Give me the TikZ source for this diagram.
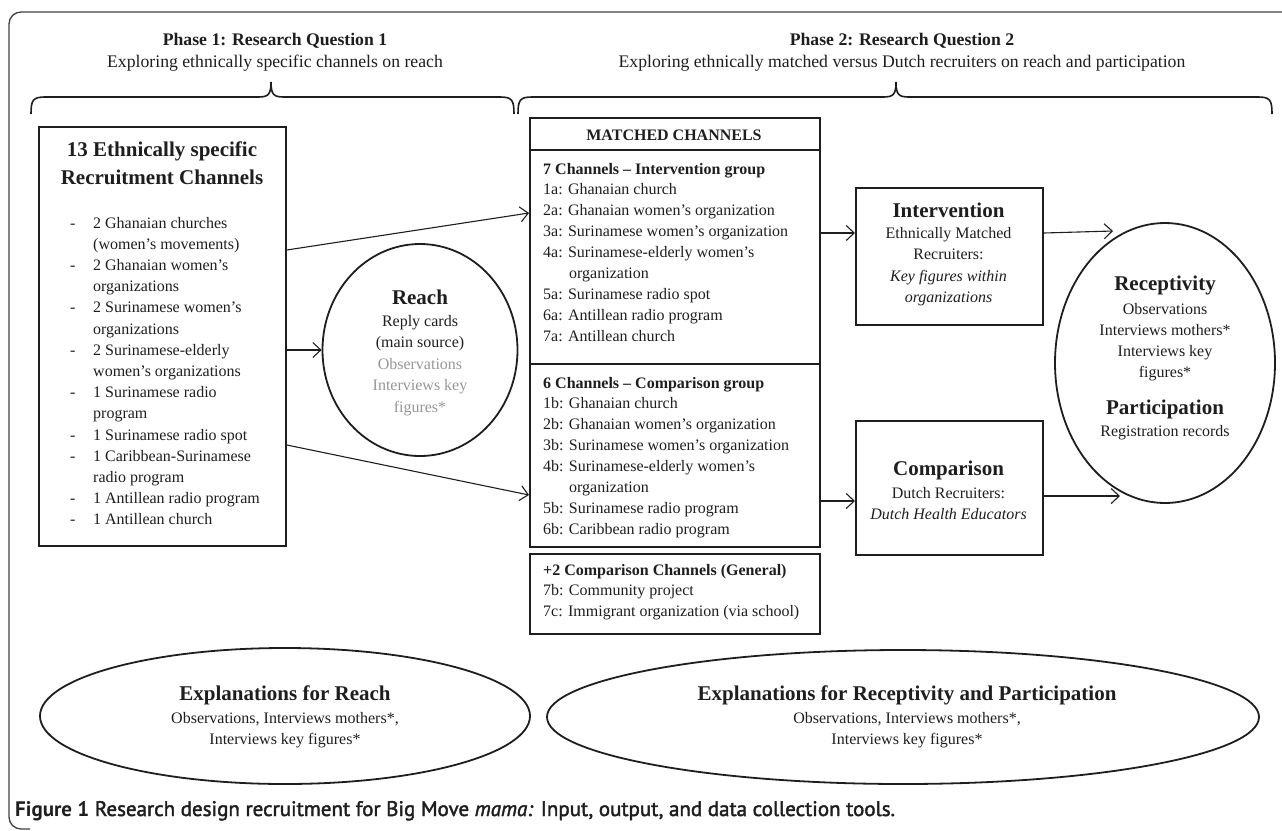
\documentclass[tikz,border=0pt]{standalone}
\usepackage{fontspec}
\setmainfont{Liberation Serif}
\newfontfamily\capfont{PT Sans}
\newfontfamily\capmed[FakeBold=2]{PT Sans}
\usetikzlibrary{arrows.meta,shapes.geometric}
\definecolor{lgray}{RGB}{150,150,150}
\definecolor{ink}{RGB}{30,30,30}
\tikzset{
  boxsty/.style={draw=ink, line width=1.8pt, inner sep=0pt, rectangle, anchor=north west},
  ellsty/.style={draw=ink, line width=1.8pt, ellipse, inner sep=0pt},
  arr/.style={draw=ink, line width=1.1pt, -{Straight Barb[length=8pt,width=15pt,line width=1.1pt]}},
  body/.style={font=\fontsize{16}{21}\selectfont, inner sep=0pt, text=ink},
  ttl/.style={font=\fontsize{21}{28}\selectfont\bfseries, inner sep=0pt, text=ink},
  bracesty/.style={draw=ink, line width=1.6pt},
}
\begin{document}
\begin{tikzpicture}[x=1pt,y=-1pt]
\useasboundingbox (0,0) rectangle (1282,830);
\begin{scope}
\clip (0,0) rectangle (1282,830);
\draw[line width=1.3pt, draw=black!75, rounded corners=12pt] (1300,12) -- (9,12) -- (9,829) -- (30,829);
\end{scope}

% phase headers
\node[ttl, font=\fontsize{17.7}{20}\selectfont\bfseries, anchor=base] (p1t) at (275,45) {Phase 1: Research Question 1};
\node[body, font=\fontsize{17.7}{20}\selectfont, anchor=base] (p1s) at (275,67) {Exploring ethnically specific channels on reach};
\node[ttl, font=\fontsize{17.7}{20}\selectfont\bfseries, anchor=base] (p2t) at (902,45) {Phase 2: Research Question 2};
\node[body, font=\fontsize{17.7}{20}\selectfont, anchor=base] (p2s) at (902,67) {Exploring ethnically matched versus Dutch recruiters on reach and participation};

% braces
\draw[bracesty] (31,114) .. controls (31,100) and (33,97) .. (45,97) -- (258,97)
  .. controls (268,97) and (271,95) .. (271,82) .. controls (271,95) and (274,97) .. (284,97)
  -- (500,97) .. controls (512,97) and (514,100) .. (514,114);
\draw[bracesty] (518,114) .. controls (518,100) and (520,97) .. (532,97) -- (883,97)
  .. controls (893,97) and (896,95) .. (896,82) .. controls (896,95) and (899,97) .. (909,97)
  -- (1258,97) .. controls (1270,97) and (1272,100) .. (1272,114);

% left box
\node[boxsty, minimum width=247pt, minimum height=419pt] (lbox) at (38,126) {};
\node[ttl, align=center] (ltitle) at (162,163) {13 Ethnically specific\\Recruitment Channels};
\node[body, anchor=base west] (llist) at (70,228) {\fontsize{16}{21.2}\selectfont
\begin{tabular}[t]{@{}p{23pt}@{}l@{}}
- & 2 Ghanaian churches\\
  & (women’s movements)\\
- & 2 Ghanaian women’s\\
  & organizations\\
- & 2 Surinamese women’s\\
  & organizations\\
- & 2 Surinamese-elderly\\
  & women’s organizations\\
- & 1 Surinamese radio\\
  & program\\
- & 1 Surinamese radio spot\\
- & 1 Caribbean-Surinamese\\
  & radio program\\
- & 1 Antillean radio program\\
- & 1 Antillean church
\end{tabular}};

% reach
\node[ellsty, minimum width=195pt, minimum height=212pt] (reach) at (420,350) {};
\node[ttl, anchor=base] (reachT) at (420,304) {Reach};
\node[body, anchor=base] (reachB) at (420,326) {\fontsize{16}{21.5}\selectfont
\begin{tabular}[t]{@{}c@{}}
Reply cards\\
(main source)\\
\textcolor{lgray}{Observations}\\
\textcolor{lgray}{Interviews key}\\
\textcolor{lgray}{figures*}
\end{tabular}};

% matched channels
\node[boxsty, minimum width=290pt, minimum height=429pt] (mbox) at (529,117) {};
\draw[draw=ink, line width=1.8pt] (mbox.west |- 0,150) -- (mbox.east |- 0,150);
\draw[draw=ink, line width=1.8pt] (mbox.west |- 0,364) -- (mbox.east |- 0,364);
\node[body, font=\fontsize{16}{20}\selectfont\bfseries, anchor=base] (mhead) at (674,140) {MATCHED CHANNELS};
\node[body, anchor=base west] (ilist) at (543,174) {\fontsize{16}{20.9}\selectfont
\begin{tabular}[t]{@{}l@{}}
\textbf{7 Channels – Intervention group}\\
1a: Ghanaian church\\
2a: Ghanaian women’s organization\\
3a: Surinamese women’s organization\\
4a: Surinamese-elderly women’s\\
\hspace*{26pt}organization\\
5a: Surinamese radio spot\\
6a: Antillean radio program\\
7a: Antillean church
\end{tabular}};
\node[body, anchor=base west] (clist) at (543,388) {\fontsize{16}{20.9}\selectfont
\begin{tabular}[t]{@{}l@{}}
\textbf{6 Channels – Comparison group}\\
1b: Ghanaian church\\
2b: Ghanaian women’s organization\\
3b: Surinamese women’s organization\\
4b: Surinamese-elderly women’s\\
\hspace*{26pt}organization\\
5b: Surinamese radio program\\
6b: Caribbean radio program
\end{tabular}};

\node[boxsty, minimum width=290pt, minimum height=80pt] (gbox) at (529,553) {};
\node[body, anchor=base west] (glist) at (543,575) {\fontsize{16}{20.9}\selectfont
\begin{tabular}[t]{@{}l@{}}
\textbf{+2 Comparison Channels (General)}\\
7b: Community project\\
7c: Immigrant organization (via school)
\end{tabular}};

% intervention / comparison
\node[boxsty, minimum width=187pt, minimum height=137pt] (ibox) at (855,187) {};
\node[ttl, anchor=base] (iT) at (948.5,217) {Intervention};
\node[body, anchor=base] (iB) at (948.5,238) {\fontsize{16}{21.5}\selectfont
\begin{tabular}[t]{@{}c@{}}
Ethnically Matched\\
Recruiters:\\
\textit{Key figures within}\\
\textit{organizations}
\end{tabular}};

\node[boxsty, minimum width=187pt, minimum height=134pt] (cbox) at (855,420) {};
\node[ttl, anchor=base] (cT) at (948.5,475) {Comparison};
\node[body, anchor=base] (cB) at (948.5,498) {\fontsize{16}{21.5}\selectfont
\begin{tabular}[t]{@{}c@{}}
Dutch Recruiters:\\
\textit{Dutch Health Educators}
\end{tabular}};

% receptivity
\node[ellsty, minimum width=220pt, minimum height=280pt] (recep) at (1165,363) {};
\node[ttl, anchor=base] (rT) at (1165,290) {Receptivity};
\node[body, anchor=base] (rB) at (1165,314) {\fontsize{16}{21}\selectfont
\begin{tabular}[t]{@{}c@{}}
Observations\\
Interviews mothers*\\
Interviews key\\
figures*
\end{tabular}};
\node[ttl, anchor=base] (pT) at (1165,414) {Participation};
\node[body, anchor=base] (pB) at (1165,436) {Registration records};

% bottom ellipses
\node[ellsty, minimum width=490pt, minimum height=136pt] (exr) at (285,716) {};
\node[ttl, anchor=base] (exrT) at (285,700) {Explanations for Reach};
\node[body, anchor=base] (exrB) at (285,723) {\fontsize{16}{21}\selectfont
\begin{tabular}[t]{@{}c@{}}
Observations, Interviews mothers*,\\
Interviews key figures*
\end{tabular}};
\node[ellsty, minimum width=712pt, minimum height=134pt] (exp) at (903,717) {};
\node[ttl, anchor=base] (expT) at (907,700) {Explanations for Receptivity and Participation};
\node[body, anchor=base] (expB) at (907,723) {\fontsize{16}{21}\selectfont
\begin{tabular}[t]{@{}c@{}}
Observations, Interviews mothers*,\\
Interviews key figures*
\end{tabular}};

% connectors
\draw[arr] (lbox.east |- 0,250) -- (mbox.west |- 0,213);
\draw[arr] (lbox.east |- 0,350) -- (reach.west);
\draw[arr] (lbox.east |- 0,445) -- (mbox.west |- 0,495);
\draw[arr] (mbox.east |- 0,233) -- (ibox.west |- 0,233);
\draw[arr] (mbox.east |- 0,501) -- (cbox.west |- 0,501);
\coordinate (rt1) at (1113,231);
\coordinate (rt2) at (1120,496);
\draw[arr] (ibox.east |- 0,233) -- (rt1);
\draw[arr] (cbox.east |- 0,496) -- (rt2);

% caption
\node[anchor=base west, inner sep=0pt, text=ink] (cap) at (15,816) {\fontsize{21}{24}\selectfont\capfont\textbf{Figure 1} \capmed Research design recruitment for Big Move \textit{mama:} Input, output, and data collection tools.};
\end{tikzpicture}
\end{document}
